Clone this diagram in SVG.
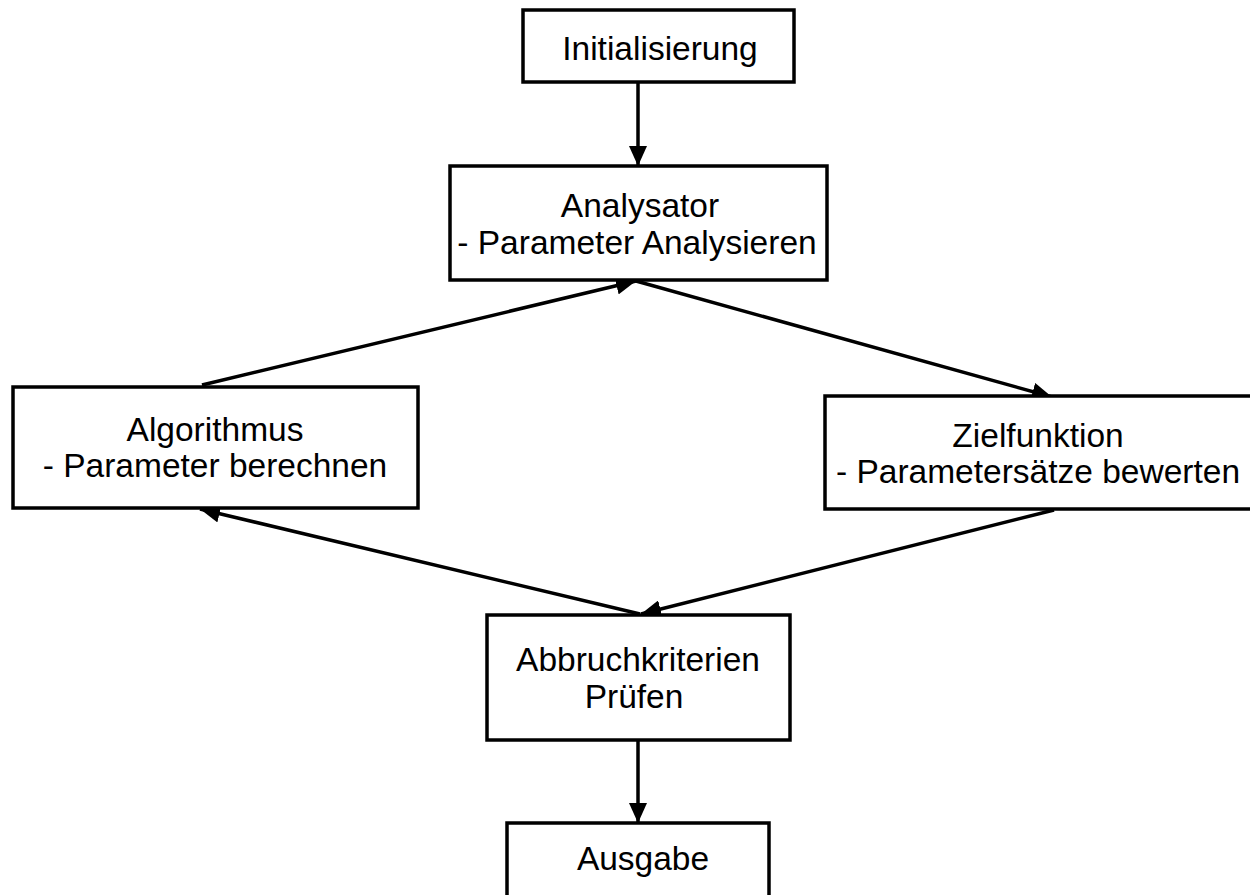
<svg xmlns="http://www.w3.org/2000/svg" width="1250" height="895" viewBox="0 0 1250 895">
  <style>
    .box { fill: #ffffff; stroke: #000000; stroke-width: 3.5; }
    .lbl { font-family: "Liberation Sans", Arial, Helvetica, sans-serif; font-size: 33.5px; fill: #000000; text-anchor: middle; }
    .edge { fill: none; stroke: #000000; stroke-width: 3.5; marker-end: url(#arrow); }
  </style>
  <defs>
    <marker id="arrow" markerUnits="userSpaceOnUse" markerWidth="22" markerHeight="18" refX="20" refY="9" orient="auto">
      <path d="M0,0 L20,9 L0,18 Z" fill="#000000"/>
    </marker>
  </defs>
  <rect width="1250" height="895" fill="#ffffff"/>

  <g id="connectors">
    <line class="edge" x1="638" y1="83" x2="638" y2="166"/>
    <line class="edge" x1="202" y1="385" x2="636" y2="281"/>
    <line class="edge" x1="636" y1="281" x2="1052" y2="397"/>
    <line class="edge" x1="1054" y1="510" x2="641" y2="614"/>
    <line class="edge" x1="640" y1="614" x2="200" y2="509"/>
    <line class="edge" x1="638" y1="741" x2="638" y2="823"/>
  </g>

  <g id="node-init">
    <rect class="box" x="523" y="10" width="271" height="72"/>
    <text class="lbl" x="660" y="60">Initialisierung</text>
  </g>

  <g id="node-analysator">
    <rect class="box" x="450" y="166" width="377" height="114"/>
    <text class="lbl" x="640" y="217">Analysator</text>
    <text class="lbl" x="637" y="254">- Parameter Analysieren</text>
  </g>

  <g id="node-algorithmus">
    <rect class="box" x="13" y="387" width="405" height="121"/>
    <text class="lbl" x="215" y="441">Algorithmus</text>
    <text class="lbl" x="215" y="477">- Parameter berechnen</text>
  </g>

  <g id="node-zielfunktion">
    <rect class="box" x="825" y="396" width="440" height="113"/>
    <text class="lbl" x="1038" y="447">Zielfunktion</text>
    <text class="lbl" x="1038" y="483">- Parametersätze bewerten</text>
  </g>

  <g id="node-abbruch">
    <rect class="box" x="487" y="615" width="303" height="125"/>
    <text class="lbl" x="638" y="671">Abbruchkriterien</text>
    <text class="lbl" x="634" y="708">Prüfen</text>
  </g>

  <g id="node-ausgabe">
    <rect class="box" x="507" y="823" width="262" height="90"/>
    <text class="lbl" x="643" y="870">Ausgabe</text>
  </g>
</svg>
